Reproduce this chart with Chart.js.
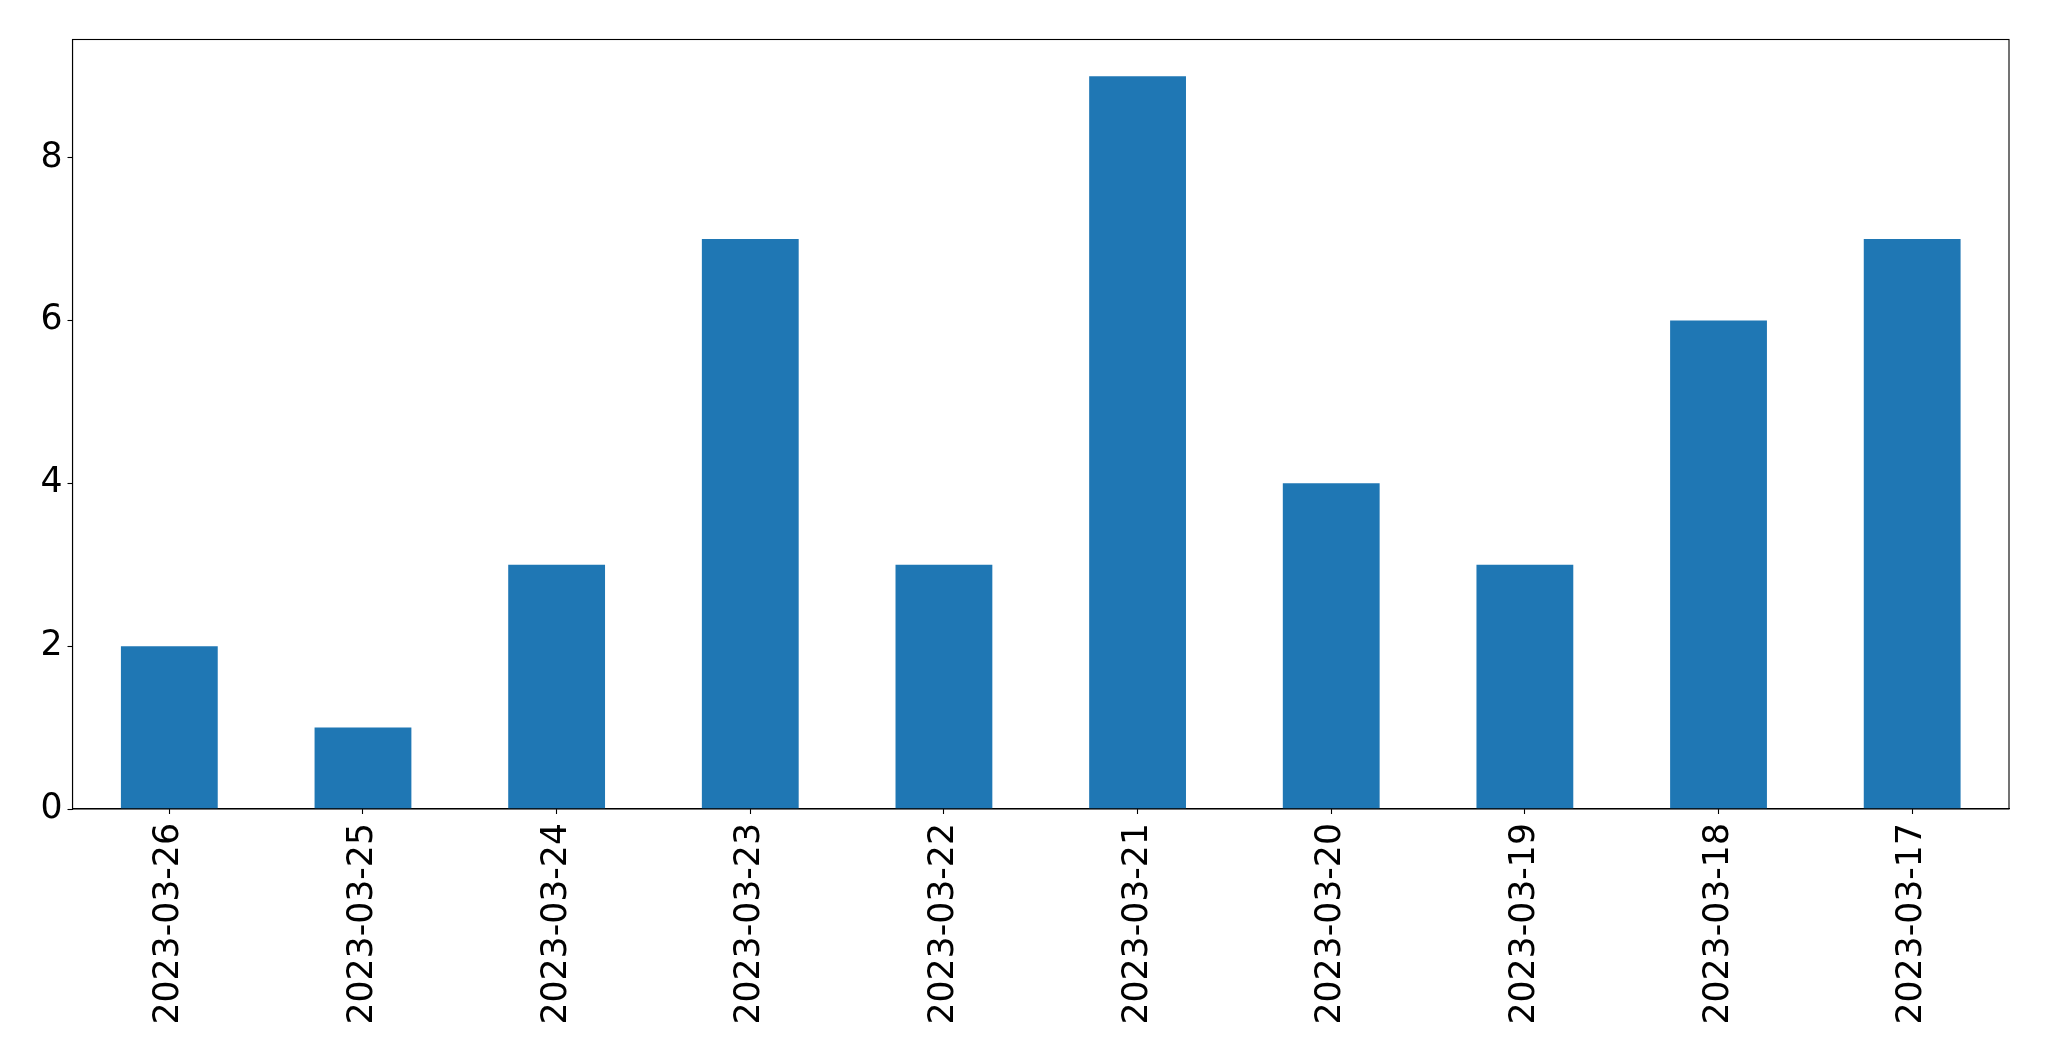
<!DOCTYPE html>
<html>
<head>
<meta charset="utf-8">
<script src="https://cdn.jsdelivr.net/npm/chart.js@4.4.1/dist/chart.umd.min.js"></script>
<style>
html,body{margin:0;padding:0;background:#fff;}
#wrap{width:2049px;height:1061px;position:relative;}
</style>
</head>
<body>
<div id="wrap"><canvas id="c" width="2049" height="1061"></canvas></div>
<script>
const categories = ["2023-03-26","2023-03-25","2023-03-24","2023-03-23","2023-03-22","2023-03-21","2023-03-20","2023-03-19","2023-03-18","2023-03-17"];
const values = [2,1,3,7,3,9,4,3,6,7];
const yTicks = [0,2,4,6,8];
const yMax = 9.45;

const PAD = {left: 0, top: 39.5, right: 40, bottom: 0};
const PLOT_LEFT = 72.5, PLOT_BOTTOM = 809;
const FONT = {family: "'DejaVu Sans'", size: 34.7};

const frame = {
  id: 'frame',
  afterDraw(chart){
    const a = chart.chartArea, ctx = chart.ctx;
    ctx.save();
    ctx.strokeStyle = '#000';
    ctx.lineWidth = 1.1;
    ctx.strokeRect(a.left, a.top, a.right - a.left, a.bottom - a.top);
    ctx.restore();
  }
};

new Chart(document.getElementById('c'), {
  type: 'bar',
  data: {
    labels: categories,
    datasets: [{
      data: values,
      backgroundColor: '#1f77b4',
      borderWidth: 0,
      barPercentage: 0.5,
      categoryPercentage: 1.0
    }]
  },
  options: {
    responsive: false,
    animation: false,
    devicePixelRatio: 1,
    layout: {padding: PAD},
    plugins: {legend: {display: false}, tooltip: {enabled: false}},
    scales: {
      x: {
        offset: true,
        grid: {display: true, drawOnChartArea: false, drawTicks: true, tickLength: 5, tickColor: '#000', tickWidth: 1.1, offset: false},
        border: {display: true, color: '#000', width: 1.1},
        ticks: {color: '#000', font: FONT, maxRotation: 90, minRotation: 90, padding: 9, autoSkip: false},
        afterFit(s){ s.height = 1061 - PLOT_BOTTOM - PAD.bottom; }
      },
      y: {
        min: 0, max: yMax,
        grid: {display: true, drawOnChartArea: false, drawTicks: true, tickLength: 5, tickColor: '#000', tickWidth: 1.1},
        border: {display: true, color: '#000', width: 1.1},
        afterBuildTicks(s){ s.ticks = yTicks.map(v => ({value: v})); },
        ticks: {color: '#000', font: FONT, padding: 5, includeBounds: false},
        afterFit(s){ s.width = PLOT_LEFT - PAD.left; }
      }
    }
  },
  plugins: [frame]
});
</script>
</body>
</html>
